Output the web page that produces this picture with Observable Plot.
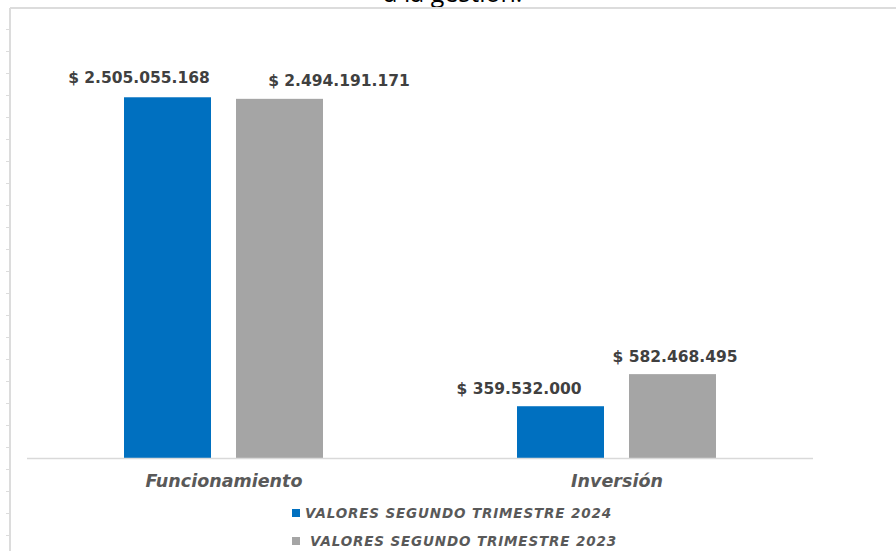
<!DOCTYPE html>
<html>
<head>
<meta charset="utf-8">
<script src="https://cdn.jsdelivr.net/npm/d3@7"></script>
<script src="https://cdn.jsdelivr.net/npm/@observablehq/plot@0.6"></script>
<style>
  html, body { margin: 0; padding: 0; background: #fff; }
  #wrap { position: relative; width: 896px; height: 551px; overflow: hidden; background: #fff; }
  #title { position: absolute; left: 0; width: 906px; top: -18px; line-height: 20px; text-align: center;
    font-family: "Open Sans", sans-serif; font-size: 25px; color: #000; z-index: 3; }
  #topline { position: absolute; left: 10px; right: 0; top: 7px; height: 2px; background: #dcdcdc; z-index: 4; }
  #leftline { position: absolute; left: 9px; width: 2px; top: 8px; bottom: 0; background: #dcdcdc; z-index: 2; }
  #leftticks { position: absolute; left: 6px; width: 4px; top: 29px; bottom: 0; z-index: 2;
    background: repeating-linear-gradient(to bottom, #dcdcdc 0px, #dcdcdc 1px, transparent 1px, transparent 22px); }
  #chart { position: absolute; left: 0; top: 0; }
  #legend { position: absolute; left: 292px; top: 499px; font-family: "DejaVu Sans", Verdana, sans-serif;
    font-weight: bold; font-style: italic; font-size: 13.5px; letter-spacing: 0.85px; color: #595959; }
  .item { display: flex; align-items: center; height: 28px; }
  .sw { width: 8px; height: 8px; margin-right: 5px; }
</style>
</head>
<body>
<div id="wrap">
  <div id="title">a la gestión.</div>
  <div id="topline"></div>
  <div id="leftline"></div>
  <div id="leftticks"></div>
  <div id="chart"></div>
  <div id="legend"></div>
</div>
<script>
const categories = ["Funcionamiento", "Inversión"];
const seriesNames = ["VALORES SEGUNDO TRIMESTRE 2024", "VALORES SEGUNDO TRIMESTRE 2023"];
const seriesKeys = ["2024", "2023"];
const values2024 = [2505055168, 359532000];
const values2023 = [2494191171, 582468495];
const colors = ["#0070C0", "#A5A5A5"];

const locale = d3.formatLocale({decimal: ",", thousands: ".", grouping: [3], currency: ["$ ", ""]});
const fmt = locale.format("$,.0f");

const data = [];
categories.forEach((c, i) => {
  data.push({cat: c, key: seriesKeys[0], series: seriesNames[0], value: values2024[i]});
  data.push({cat: c, key: seriesKeys[1], series: seriesNames[1], value: values2023[i]});
});

// horizontal nudges of the data labels (as placed in the original)
const labelNudge = [-29, 59, -42, 2];
const labelLift = [-15, -13, -13, -13];

const labelMarks = data.map((d, i) => Plot.text([d], {
  fx: "cat", x: "key", y: "value", text: dd => fmt(dd.value),
  dx: labelNudge[i], dy: labelLift[i], lineAnchor: "bottom",
  fontSize: 15.5, fontWeight: "bold", fill: "#404040", fontFamily: "DejaVu Sans, Verdana, sans-serif"
}));

const chart = Plot.plot({
  width: 896, height: 500,
  marginLeft: 27, marginRight: 83, marginTop: 26, marginBottom: 42,
  style: {fontFamily: "DejaVu Sans, Verdana, sans-serif", background: "transparent", overflow: "visible"},
  fx: {domain: categories, padding: 0, label: null},
  x: {domain: seriesKeys, paddingInner: 0.221, paddingOuter: 0.85, axis: null},
  y: {domain: [0, 3e9], axis: null},
  color: {domain: seriesNames, range: colors},
  marks: [
    Plot.barY(data, {fx: "cat", x: "key", y: "value", fill: "series"}),
    Plot.ruleY([0], {stroke: "#d9d9d9", strokeWidth: 1.5}),
    ...labelMarks,
    Plot.axisFx({anchor: "bottom", tickSize: 0, tickPadding: 16, label: null,
      fontSize: 17.5, fontWeight: "bold", fontStyle: "italic", color: "#595959",
      fontFamily: "DejaVu Sans, Verdana, sans-serif"})
  ]
});
document.getElementById("chart").appendChild(chart);

const legend = document.getElementById("legend");
seriesNames.forEach((s, i) => {
  const item = document.createElement("div");
  item.className = "item";
  const sw = document.createElement("span");
  sw.className = "sw";
  sw.style.background = colors[i];
  if (i === 1) sw.style.marginRight = "10px";
  const t = document.createElement("span");
  t.textContent = s;
  item.appendChild(sw); item.appendChild(t);
  legend.appendChild(item);
});
</script>
</body>
</html>
